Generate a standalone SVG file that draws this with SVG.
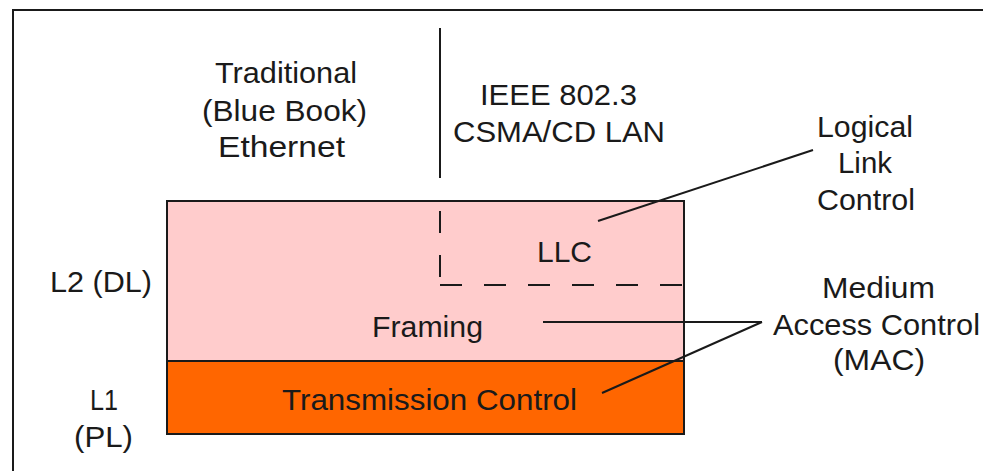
<svg xmlns="http://www.w3.org/2000/svg" width="983" height="471" viewBox="0 0 983 471">
<style>
text{font-family:"Liberation Sans",Arial,sans-serif;font-size:29px;fill:#1a1a1a;lengthAdjust:spacing}
.ln{stroke:#1a1a1a;stroke-width:2;fill:none}
.dash{stroke:#1a1a1a;stroke-width:2;fill:none;stroke-dasharray:22,22}
</style>
<rect width="983" height="471" fill="#ffffff"/>
<g id="frame">
<path class="ln" d="M13,471 V10 H983" stroke-width="2.5"/>
</g>
<g id="divider">
<line class="ln" x1="440" y1="28" x2="440" y2="178"/>
</g>
<g id="dl-layer">
<rect x="167" y="201" width="517" height="160" fill="#ffcccc" stroke="#1a1a1a" stroke-width="2"/>
</g>
<g id="pl-layer">
<rect x="167" y="361" width="517" height="73" fill="#ff6600" stroke="#1a1a1a" stroke-width="2"/>
</g>
<g id="llc-box">
<path class="dash" d="M440,201 V285" stroke-dasharray="22,22" stroke-dashoffset="-10"/>
<path class="dash" d="M440,285 H684"/>
</g>
<g id="connectors">
<line class="ln" x1="813" y1="150" x2="598" y2="221"/>
<line class="ln" x1="762" y1="322" x2="543" y2="322"/>
<line class="ln" x1="762" y1="322" x2="602" y2="393"/>
</g>
<g id="traditional">
<text x="215" y="83" textLength="142" lengthAdjust="spacingAndGlyphs">Traditional</text>
<text x="202" y="121" textLength="165" lengthAdjust="spacingAndGlyphs">(Blue Book)</text>
<text x="218" y="157" textLength="127" lengthAdjust="spacingAndGlyphs">Ethernet</text>
</g>
<g id="ieee">
<text x="480" y="105" textLength="157" lengthAdjust="spacingAndGlyphs">IEEE 802.3</text>
<text x="453" y="142" textLength="212" lengthAdjust="spacingAndGlyphs">CSMA/CD LAN</text>
</g>
<g id="llc-label">
<text x="817" y="137" textLength="96" lengthAdjust="spacingAndGlyphs">Logical</text>
<text x="838" y="173" textLength="54" lengthAdjust="spacingAndGlyphs">Link</text>
<text x="817" y="210" textLength="98" lengthAdjust="spacingAndGlyphs">Control</text>
</g>
<g id="llc">
<text x="537" y="262" textLength="55" lengthAdjust="spacingAndGlyphs">LLC</text>
</g>
<g id="framing">
<text x="372" y="337" textLength="111" lengthAdjust="spacingAndGlyphs">Framing</text>
</g>
<g id="transmission">
<text x="282" y="410" textLength="295" lengthAdjust="spacingAndGlyphs">Transmission Control</text>
</g>
<g id="l2">
<text x="50" y="292" textLength="102" lengthAdjust="spacingAndGlyphs">L2 (DL)</text>
</g>
<g id="l1">
<text x="90" y="410" textLength="28" lengthAdjust="spacingAndGlyphs">L1</text>
<text x="74" y="447" textLength="59" lengthAdjust="spacingAndGlyphs">(PL)</text>
</g>
<g id="mac-label">
<text x="822" y="298" textLength="113" lengthAdjust="spacingAndGlyphs">Medium</text>
<text x="773" y="335" textLength="207" lengthAdjust="spacingAndGlyphs">Access Control</text>
<text x="833" y="370" textLength="92" lengthAdjust="spacingAndGlyphs">(MAC)</text>
</g>
</svg>
